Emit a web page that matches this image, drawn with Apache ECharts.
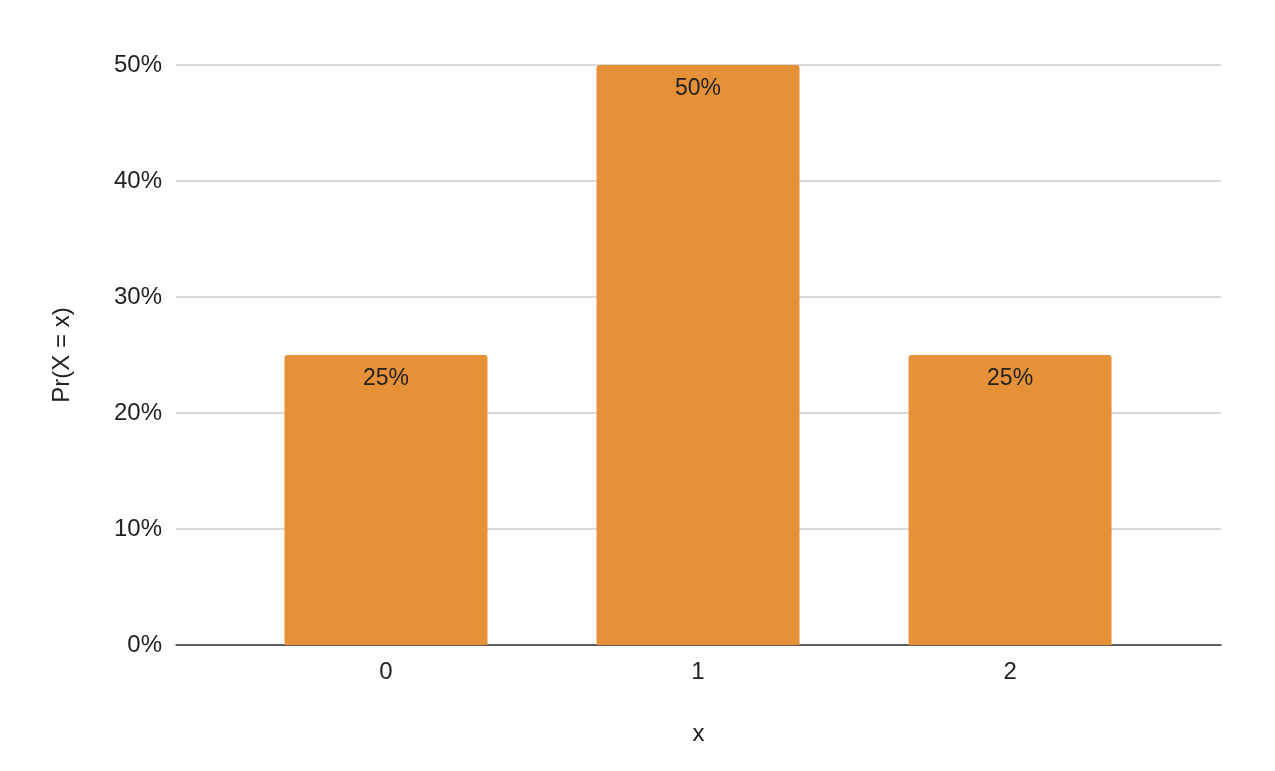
<!DOCTYPE html>
<html><head><meta charset="utf-8">
<script src="https://cdn.jsdelivr.net/npm/echarts@6/dist/echarts.min.js"></script>
<style>html,body{margin:0;padding:0;background:#fff}#c{width:1275px;height:771px}</style>
</head><body><div id="c"></div>
<script>
const categories = ['0', '1', '2'];
const probabilities = [0.25, 0.5, 0.25];
const yTicks = [0, 0.1, 0.2, 0.3, 0.4, 0.5];

const chart = echarts.init(document.getElementById('c'), null, {renderer: 'canvas'});
const font = 'Liberation Sans, Arial, sans-serif';
const catIdx = categories.map((c, i) => i);
chart.setOption({
  animation: false,
  grid: {left: 176, right: 54, top: 65, bottom: 126},
  xAxis: {
    type: 'value', min: -0.673, max: categories.length - 1 + 0.676,
    name: 'x', nameLocation: 'middle', nameGap: 77,
    nameTextStyle: {fontFamily: font, fontSize: 24, color: '#222'},
    axisLine: {onZero: false, lineStyle: {color: '#333', width: 1.5}},
    axisTick: {show: false},
    splitLine: {show: false},
    axisLabel: {fontFamily: font, fontSize: 24, color: '#222', margin: 15,
      customValues: catIdx,
      formatter: v => categories[Math.round(v)] !== undefined ? categories[Math.round(v)] : ''}
  },
  yAxis: {
    type: 'value', min: yTicks[0], max: yTicks[yTicks.length - 1], interval: 0.1,
    name: 'Pr(X = x)', nameLocation: 'middle', nameGap: 102, nameRotate: 90,
    nameTextStyle: {fontFamily: font, fontSize: 24, color: '#222'},
    axisLine: {show: false}, axisTick: {show: false},
    splitLine: {lineStyle: {color: '#cccccc', width: 1.5}},
    axisLabel: {fontFamily: font, fontSize: 24, color: '#222', margin: 14,
      padding: [4, 0, 0, 0],
      formatter: v => Math.round(v * 100) + '%'}
  },
  series: [{
    type: 'bar', data: probabilities.map((p, i) => [i, p]), barWidth: 203,
    itemStyle: {color: '#E69138', borderRadius: [3, 3, 0, 0]},
    label: {show: true, position: 'insideTop', distance: 12,
      fontFamily: font, fontSize: 23, color: '#222',
      formatter: p => Math.round(p.value[1] * 100) + '%'}
  }]
});
</script></body></html>
